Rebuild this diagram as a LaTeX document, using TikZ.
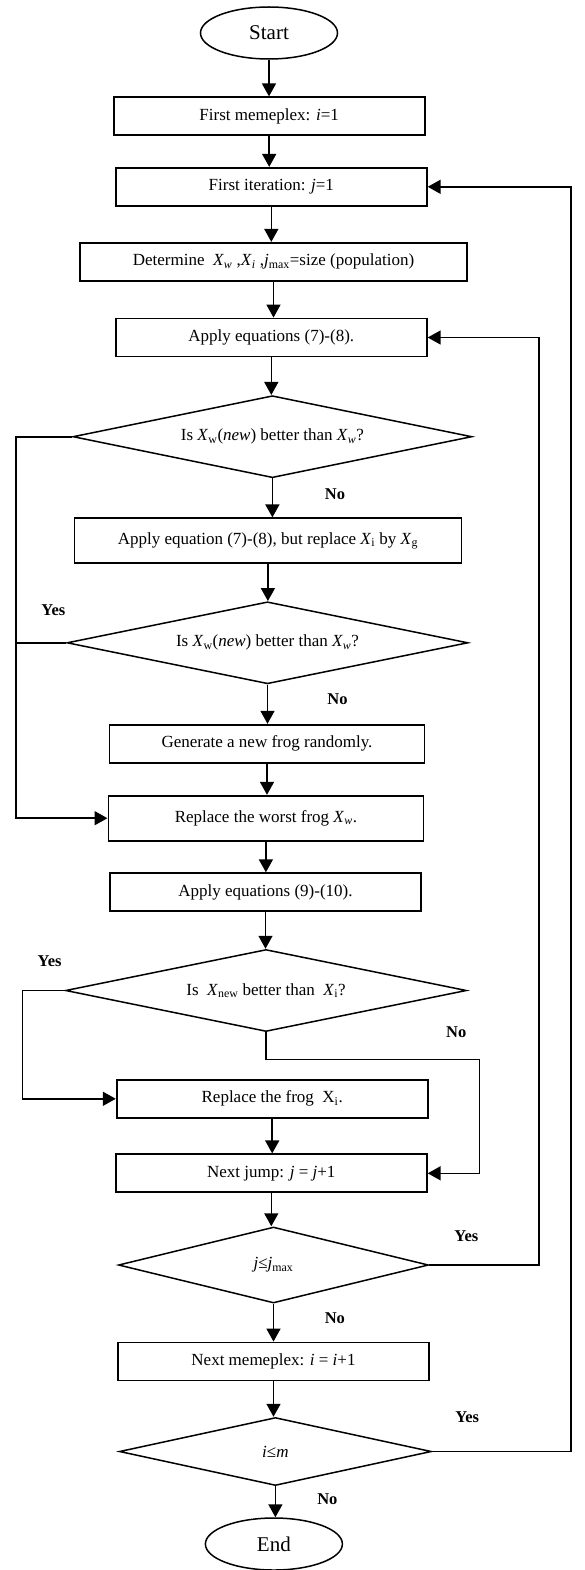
\documentclass[tikz,border=0pt]{standalone}
\usepackage{fontspec}
\setmainfont{Liberation Serif}
\usetikzlibrary{shapes.geometric,arrows.meta}

\newcommand{\var}[1]{\textit{#1}}
\newcommand{\low}[1]{\textsubscript{#1}}

\tikzset{
	process/.style={draw,rectangle,line width=1.8pt,minimum width=311pt,minimum height=38pt,font=\fontsize{17}{20}\selectfont},
	decision/.style={draw,diamond,aspect=5,inner sep=0pt,line width=1.5pt,font=\fontsize{17}{20}\selectfont},
	terminal/.style={draw,ellipse,line width=1.5pt,minimum width=137pt,minimum height=52pt,font=\fontsize{21}{24}\selectfont},
	answer/.style={font=\fontsize{16.5}{19}\selectfont\bfseries},
	flow/.style={line width=1.6pt,-{Triangle[length=13pt,width=14pt]}},
	rail/.style={line width=1.6pt}
}

\begin{document}
\begin{tikzpicture}[x=1pt,y=-1pt]
	\useasboundingbox (0,0) rectangle (584,1570);

	\node[terminal] (start) at (269,33) {Start};
	\node[process] (memeplex) at (269.2,116.3) {First memeplex: \var{i}=1};
	\node[process] (iter) at (271.3,186.8) {First iteration: \var{j}=1};
	\node[process,minimum width=387pt] (determine) at (273.5,261.8) {Determine~ \var{X}\low{\var{w}} ,\var{X}\low{\var{i}} ,\var{j}\low{max}=size (population)};
	\node[process] (apply78) at (271.3,337.5) {Apply equations (7)-(8).};
	\node[decision,minimum width=399pt,minimum height=82pt] (better1) at (272.4,436.7) {Is \var{X}\low{w}(\var{new}) better than \var{X}\low{\var{w}}?};
	\node[process,minimum width=387pt,minimum height=45pt] (applyg) at (267.9,540.8) {Apply equation (7)-(8), but replace \var{X}\low{i} by \var{X}\low{g}};
	\node[decision,minimum width=401pt,minimum height=82pt] (better2) at (267.5,642.8) {Is \var{X}\low{w}(\var{new}) better than \var{X}\low{\var{w}}?};
	\node[process,minimum width=315pt] (generate) at (267,743.7) {Generate a new frog randomly.};
	\node[process,minimum width=315pt,minimum height=45pt] (replacew) at (265.9,818.2) {Replace the worst frog \var{X}\low{\var{w}}.};
	\node[process] (apply910) at (265.5,892.2) {Apply equations (9)-(10).};
	\node[decision,minimum width=401pt,minimum height=82pt] (betternew) at (266,990.5) {Is~ \var{X}\low{new} better than~ \var{X}\low{i}?};
	\node[process] (replacei) at (272.2,1098.8) {Replace the frog~ X\low{i}.};
	\node[process] (nextjump) at (271.3,1173.3) {Next jump: \var{j} = \var{j}+1};
	\node[decision,minimum width=310pt,minimum height=76pt] (jcheck) at (273.5,1265) {\var{j}≤\var{j}\low{max}};
	\node[process] (nextmeme) at (273.5,1361.5) {Next memeplex: \var{i} = \var{i}+1};
	\node[decision,minimum width=312pt,minimum height=68pt] (icheck) at (275.4,1451.5) {\var{i}≤\var{m}};
	\node[terminal] (end) at (273.9,1544) {End};

	\node[answer] (no1) at (335,494.3) {No};
	\node[answer] (yes2) at (53.4,610) {Yes};
	\node[answer] (no2) at (337.5,699.3) {No};
	\node[answer] (yes3) at (49.6,960.7) {Yes};
	\node[answer] (no3) at (456.2,1031.7) {No};
	\node[answer] (yes4) at (466.4,1236) {Yes};
	\node[answer] (no4) at (334.9,1317.7) {No};
	\node[answer] (yes5) at (467.2,1417.3) {Yes};
	\node[answer] (no5) at (327.4,1499.3) {No};

	\coordinate (leftrail) at (16,600);
	\coordinate (siderail) at (22.4,1000);
	\coordinate (nojog) at (479.5,1059.3);
	\coordinate (innerrail) at (539,800);
	\coordinate (outerrail) at (571,800);

	\foreach \a/\b in {start/memeplex,memeplex/iter,iter/determine,determine/apply78,
		apply78/better1,better1/applyg,applyg/better2,better2/generate,generate/replacew,
		replacew/apply910,apply910/betternew,replacei/nextjump,nextjump/jcheck,
		jcheck/nextmeme,nextmeme/icheck,icheck/end}
		\draw[flow] (\a.south) -- (\a.south |- \b.north);

	\draw[flow] (better1.west) -| (leftrail) |- (replacew.west);
	\draw[rail] (better2.west) -- (better2.west -| leftrail);
	\draw[flow] (betternew.west) -| (siderail) |- (replacei.west);
	\draw[flow] (betternew.south) |- (nojog) |- (nextjump.east);
	\draw[flow] (jcheck.east) -| (innerrail) |- (apply78.east);
	\draw[flow] (icheck.east) -| (outerrail) |- (iter.east);
\end{tikzpicture}
\end{document}
